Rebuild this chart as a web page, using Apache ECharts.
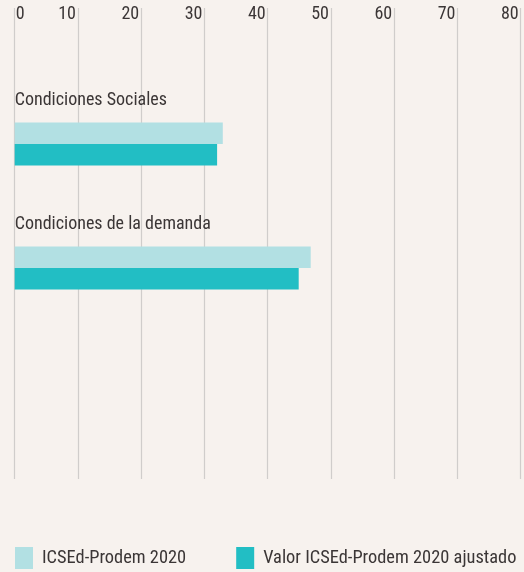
<!DOCTYPE html>
<html>
<head>
<meta charset="utf-8">
<script src="https://cdn.jsdelivr.net/npm/echarts@6/dist/echarts.min.js"></script>
<style>
  html, body { margin: 0; padding: 0; background: #f7f2ee; }
  #main { width: 524px; height: 572px; }
</style>
</head>
<body>
<div id="main"></div>
<script>
var categories = ['Condiciones Sociales', 'Condiciones de la demanda'];
var seriesNames = ['ICSEd-Prodem 2020', 'Valor ICSEd-Prodem 2020 ajustado'];
var icsed2020 = [32.9, 46.8];
var icsedAjustado = [32.0, 44.9];
var xTicks = [0, 10, 20, 30, 40, 50, 60, 70, 80];

var FONT = '"Roboto Condensed", "DejaVu Sans Condensed", sans-serif';
var TEXT = '#3b3636';

var chart = echarts.init(document.getElementById('main'));

var option = {
  backgroundColor: '#f7f2ee',
  animation: false,
  textStyle: { fontFamily: FONT },
  legend: {
    orient: 'horizontal',
    left: 15,
    bottom: 3,
    padding: 0,
    width: 520,
    itemWidth: 18,
    itemHeight: 22,
    itemGap: 50,
    icon: 'rect',
    data: seriesNames,
    textStyle: { color: TEXT, fontSize: 18.4, fontFamily: FONT, padding: [0, 0, 0, 4] }
  },
  grid: [
    // grid for the axis labels and vertical lines
    { left: 14.7, right: 3.3, top: 8, bottom: 93 },
    // grid for the bars
    { left: 14.7, right: 3.3, top: 82, height: 248 }
  ],
  xAxis: [
    {
      gridIndex: 0,
      type: 'value',
      position: 'top',
      min: xTicks[0],
      max: xTicks[xTicks.length - 1],
      interval: 10,
      axisLine: { show: false },
      axisTick: { show: false },
      splitLine: { show: true, lineStyle: { color: '#d0cdcb', width: 1.2 } },
      axisLabel: {
        inside: true,
        margin: -3,
        align: 'right',
        alignMinLabel: 'left',
        verticalAlign: 'top',
        padding: [0, 2, 0, 1],
        color: TEXT,
        fontSize: 18,
        fontFamily: FONT
      }
    },
    {
      gridIndex: 1,
      type: 'value',
      min: xTicks[0],
      max: xTicks[xTicks.length - 1],
      show: false
    }
  ],
  yAxis: [
    { gridIndex: 0, type: 'category', data: categories, show: false },
    { gridIndex: 1, type: 'category', data: categories, inverse: true, show: false }
  ],
  series: [
    {
      name: seriesNames[0],
      type: 'bar',
      xAxisIndex: 1,
      yAxisIndex: 1,
      data: icsed2020,
      barWidth: 21.5,
      barGap: '0%',
      itemStyle: { color: '#b2e0e3' },
      label: {
        show: true,
        position: [0, -13],
        verticalAlign: 'bottom',
        align: 'left',
        formatter: '{b}',
        color: TEXT,
        fontSize: 18,
        fontFamily: FONT
      }
    },
    {
      name: seriesNames[1],
      type: 'bar',
      xAxisIndex: 1,
      yAxisIndex: 1,
      data: icsedAjustado,
      barWidth: 21.5,
      barGap: '0%',
      itemStyle: { color: '#22bec4' }
    }
  ]
};

chart.setOption(option);
</script>
</body>
</html>
